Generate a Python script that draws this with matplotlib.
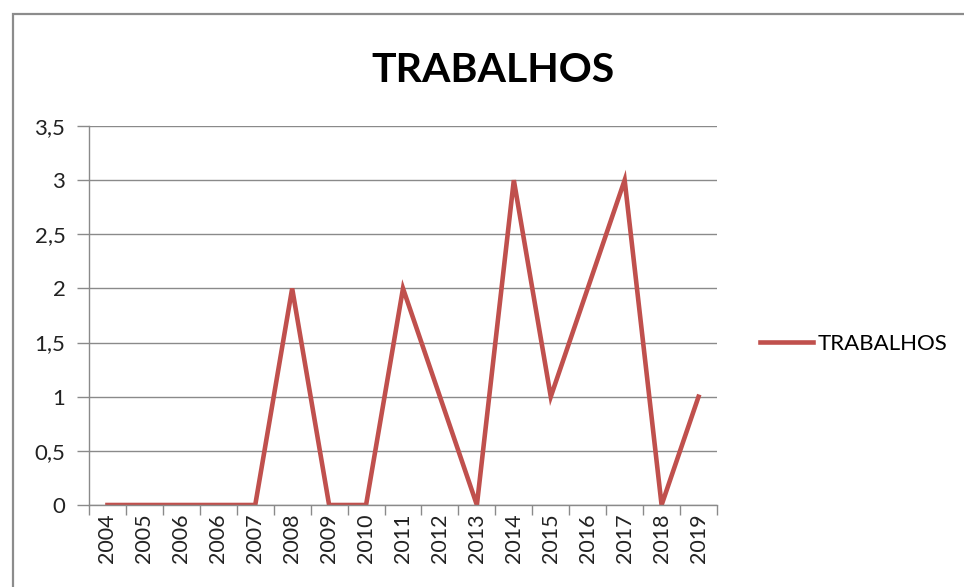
import matplotlib
matplotlib.use("Agg")
import matplotlib.pyplot as plt
from matplotlib.patches import Rectangle
from matplotlib.ticker import FixedLocator, FuncFormatter
import numpy as np

categories = ["2004", "2005", "2006", "2006", "2007", "2008", "2009", "2010",
              "2011", "2012", "2013", "2014", "2015", "2016", "2017", "2018", "2019"]
values = [0, 0, 0, 0, 0, 2, 0, 0, 2, 1, 0, 3, 1, 2, 3, 0, 1]
yticks = [0, 0.5, 1, 1.5, 2, 2.5, 3, 3.5]
title = "TRABALHOS"
series_name = "TRABALHOS"

plt.rcParams['font.family'] = ['Lato', 'DejaVu Sans']

W, H = 964, 587
fig = plt.figure(figsize=(W / 100, H / 100), dpi=100)
fig.patch.set_facecolor("white")

# outer chart frame
fig.patches.append(Rectangle((13 / W, -0.05), 1.2, 1 - 14 / H + 0.05,
                             transform=fig.transFigure, fill=False,
                             edgecolor="#8c8c8c", linewidth=1.6))

ax = fig.add_axes([89 / W, 1 - 505 / H, (717 - 89) / W, (505 - 126) / H])
x = np.arange(len(categories))
line, = ax.plot(x, values, color="#C0504D", linewidth=3.3,
                solid_joinstyle="miter", label=series_name)

ax.set_xlim(-0.5, len(categories) - 0.5)
ax.set_ylim(0, 3.5)

grid_c = "#8a8a8a"
ax.set_yticks(yticks)
ax.yaxis.set_major_formatter(FuncFormatter(lambda v, p: f"{v:g}".replace(".", ",")))
ax.yaxis.grid(True, color=grid_c, linewidth=1.0)
ax.set_axisbelow(True)
ax.tick_params(axis="y", length=9, width=1.0, color=grid_c, labelsize=16,
               pad=8, labelcolor="#222222")

ax.xaxis.set_major_locator(FixedLocator(np.arange(-0.5, len(categories), 1.0)))
ax.xaxis.set_major_formatter(FuncFormatter(lambda v, p: ""))
ax.xaxis.set_minor_locator(FixedLocator(x))
ax.set_xticklabels(categories, minor=True, rotation=90)
ax.tick_params(axis="x", which="major", length=7, width=1.0, color=grid_c)
ax.tick_params(axis="x", which="minor", length=0, labelsize=15.5, pad=6,
               labelcolor="#222222")

for s in ["top", "right"]:
    ax.spines[s].set_visible(False)
for s in ["left", "bottom"]:
    ax.spines[s].set_color(grid_c)
    ax.spines[s].set_linewidth(1.0)

fig.text(493 / W, 1 - 70 / H, title, ha="center", va="center",
         fontsize=29.5, fontweight="bold", color="black")

fig.legend(handles=[line], labels=[series_name], loc="center left",
           bbox_to_anchor=(760 / W, 1 - 344 / H), frameon=False,
           fontsize=16, handlelength=2.4, handletextpad=0.2,
           borderpad=0, borderaxespad=0)

fig.savefig("out.png", dpi=100)
